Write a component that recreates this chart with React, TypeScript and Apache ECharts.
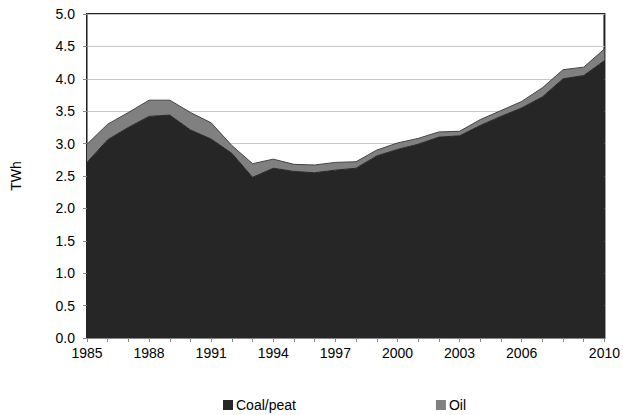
import React, { useEffect, useRef } from "react";
import * as echarts from "echarts";

const years = [
  "1985","1986","1987","1988","1989","1990","1991","1992","1993","1994",
  "1995","1996","1997","1998","1999","2000","2001","2002","2003","2004",
  "2005","2006","2007","2008","2009","2010",
];
const coalPeat = [
  2.71, 3.06, 3.25, 3.42, 3.44, 3.21, 3.07, 2.85, 2.48, 2.62,
  2.57, 2.55, 2.59, 2.62, 2.81, 2.91, 2.99, 3.10, 3.12, 3.28,
  3.42, 3.55, 3.72, 4.00, 4.05, 4.28,
];
const oil = [
  0.28, 0.24, 0.23, 0.25, 0.23, 0.27, 0.25, 0.12, 0.21, 0.14,
  0.11, 0.12, 0.12, 0.10, 0.09, 0.10, 0.09, 0.08, 0.07, 0.09,
  0.09, 0.10, 0.14, 0.14, 0.13, 0.18,
];
const yTicks = [0, 0.5, 1, 1.5, 2, 2.5, 3, 3.5, 4, 4.5, 5];

export default function App() {
  const ref = useRef<HTMLDivElement>(null);
  useEffect(() => {
    if (!ref.current) return;
    const chart = echarts.init(ref.current, null, { renderer: "svg" });
    const font = "Liberation Sans, Arial, sans-serif";
    chart.setOption({
      animation: false,
      textStyle: { fontFamily: font },
      grid: {
        left: 87, right: 13, top: 14, bottom: 77,
        show: true, borderColor: "#222", borderWidth: 2, backgroundColor: "transparent",
      },
      legend: {
        left: 218, top: 393, icon: "rect", itemWidth: 10, itemHeight: 10,
        itemGap: 140,
        textStyle: { fontFamily: font, fontSize: 14, color: "#000", padding: [0, 0, 0, -2] },
        data: ["Coal/peat", "Oil"],
      },
      xAxis: {
        type: "category",
        data: years,
        boundaryGap: false,
        axisLine: { lineStyle: { color: "#888", width: 1 } },
        axisTick: { show: true, interval: 0, length: 4, lineStyle: { color: "#888" } },
        axisLabel: {
          interval: (i: number) => (i % 3 === 0 && i <= 21) || i === 25,
          color: "#000", fontSize: 14, fontFamily: font, margin: 8,
        },
        splitLine: { show: false },
      },
      yAxis: {
        type: "value",
        min: 0, max: 5, interval: 0.5,
        name: "TWh",
        nameLocation: "middle",
        nameGap: 64,
        nameTextStyle: { color: "#000", fontSize: 14, fontFamily: font },
        axisLine: { show: true, lineStyle: { color: "#888" } },
        axisTick: { show: true, length: 4, lineStyle: { color: "#888" } },
        axisLabel: {
          color: "#000", fontSize: 14, fontFamily: font, margin: 12,
          formatter: (v: number) => (yTicks.includes(v) ? v.toFixed(1) : ""),
        },
        splitLine: { show: true, lineStyle: { color: "#c8c8c8", width: 1 } },
      },
      series: [
        {
          name: "Coal/peat",
          type: "line",
          stack: "total",
          data: coalPeat,
          symbol: "none",
          itemStyle: { color: "#262626" },
          lineStyle: { color: "#262626", width: 1 },
          areaStyle: { color: "#262626", opacity: 1 },
        },
        {
          name: "Oil",
          type: "line",
          stack: "total",
          data: oil,
          symbol: "none",
          itemStyle: { color: "#808080" },
          lineStyle: { color: "#444", width: 1 },
          areaStyle: { color: "#808080", opacity: 1 },
        },
      ],
    });
    return () => chart.dispose();
  }, []);
  return <div ref={ref} style={{ width: 623, height: 415, position: "absolute", left: 0, top: 0 }} />;
}
